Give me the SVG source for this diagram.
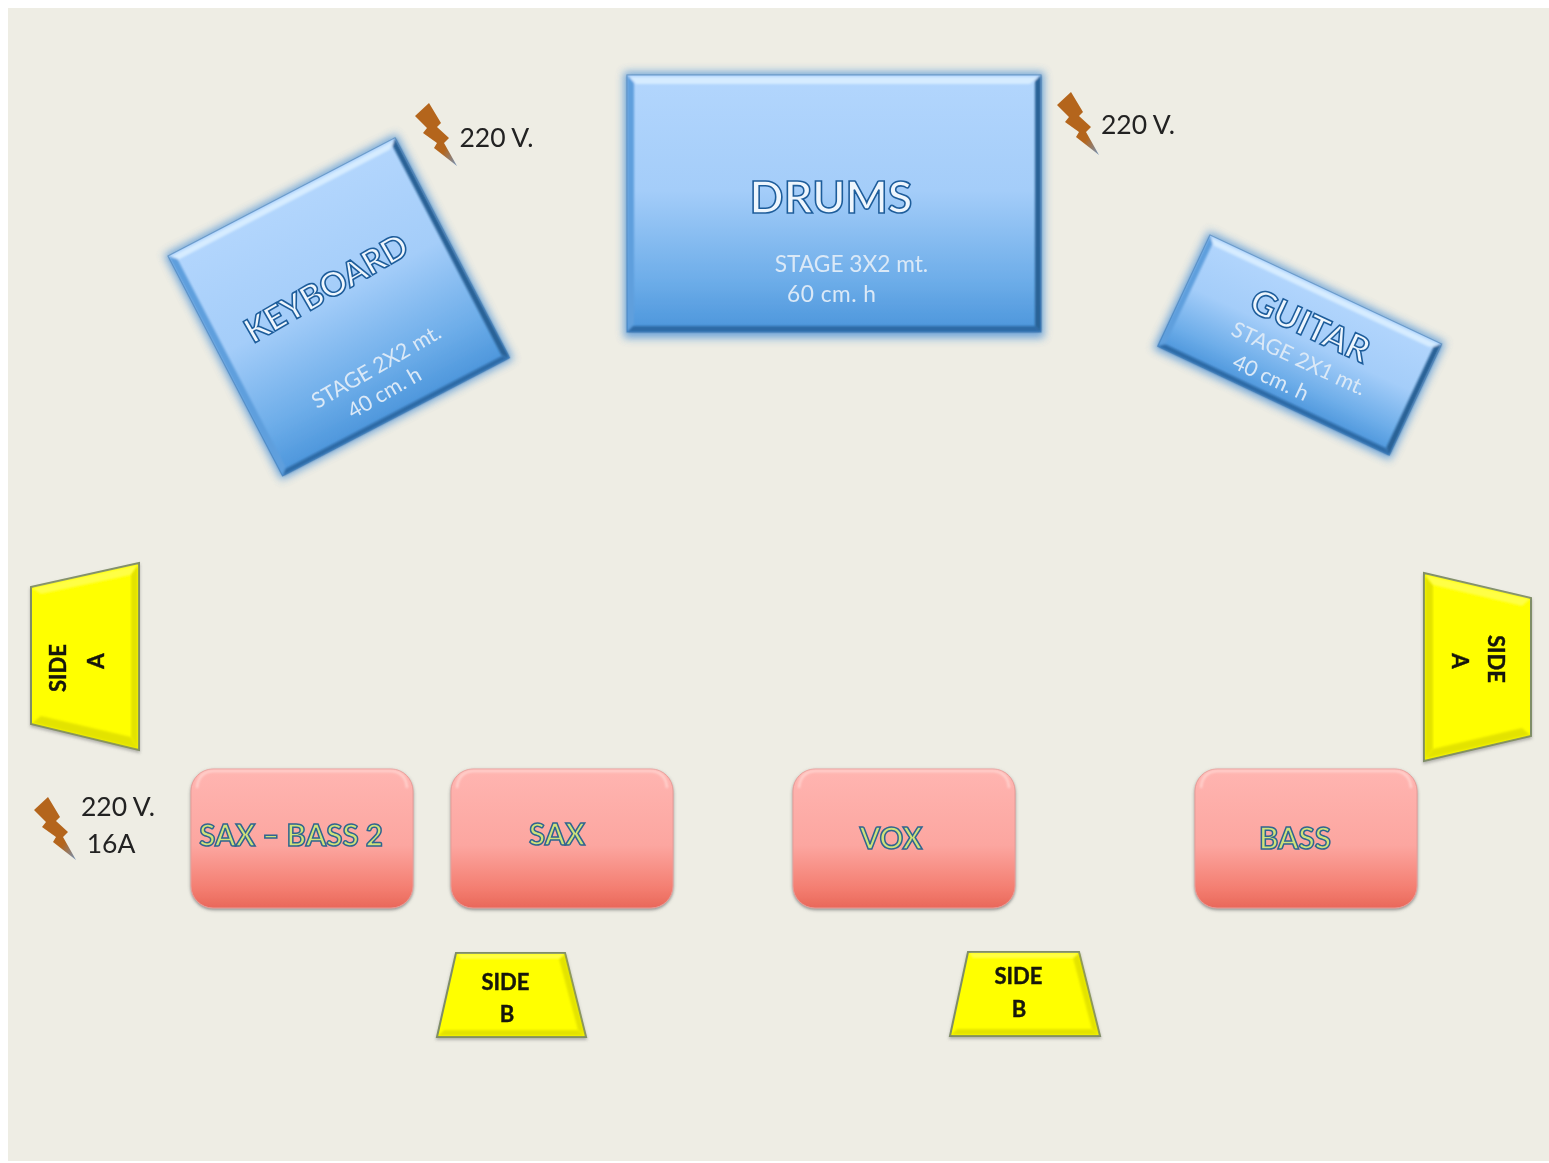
<svg xmlns="http://www.w3.org/2000/svg" xmlns:xlink="http://www.w3.org/1999/xlink" width="1549" height="1163" viewBox="0 0 1549 1163">
<style>
text{font-family:Lato,"Liberation Sans",sans-serif;text-anchor:middle}
.blue{fill:url(#gBlue)}
.edge{fill:none;stroke:#3f78b0;stroke-width:1.2;opacity:.55}
.glow{fill:#4f93d6;opacity:.8;filter:url(#b5)}
.hi{fill:#d6ecff}
.lf{fill:#5f9fdd}
.dk{fill:#2c6296}
.bt{fill:#2f6ba6}
.tt{font-weight:700;fill:#eef6fd;stroke:#1f5d9b;stroke-width:1.6}
.sub{fill:#dbe9f7;font-size:22.700px}
.subr{fill:#dbe9f7;font-size:21.500px}
.pink{fill:url(#gPink);stroke:#e79c98;stroke-width:1;filter:url(#sh)}
.phi{fill:none;stroke:#ffd9d5;stroke-width:2.500;opacity:.8;filter:url(#b1)}
.pt{font-weight:700;font-size:29.500px;fill:#cfe27a;stroke:#2f6590;stroke-width:1.500}
.yel{fill:#ffff00;stroke:#7f8d68;stroke-width:2;filter:url(#sh2)}
.yb{fill:#d2d100;opacity:.6;filter:url(#b1)}
.yl{fill:#ffff8a;opacity:.5;filter:url(#b1)}
.yt{font-weight:700;font-size:22px;fill:#15150a;stroke:#15150a;stroke-width:.4}
.v{font-size:26.500px;fill:#222}
</style>
<defs>
<linearGradient id="gBlue" x1="0" y1="0" x2="0" y2="1"><stop offset="0" stop-color="#b3d6fd"/><stop offset=".45" stop-color="#a4cdf9"/><stop offset=".8" stop-color="#6dade9"/><stop offset="1" stop-color="#4b95db"/></linearGradient>
<linearGradient id="gPink" x1="0" y1="0" x2="0" y2="1"><stop offset="0" stop-color="#ffb5b1"/><stop offset=".55" stop-color="#fca6a0"/><stop offset=".85" stop-color="#f47f72"/><stop offset="1" stop-color="#e9685a"/></linearGradient>
<linearGradient id="gBolt" x1="0" y1="0" x2="1" y2="1"><stop offset="0" stop-color="#b4651c"/><stop offset=".72" stop-color="#b4651c"/><stop offset="1" stop-color="#6f93bd"/></linearGradient>
<filter id="b5" x="-15%" y="-15%" width="130%" height="130%"><feGaussianBlur stdDeviation="4.500"/></filter>
<filter id="b1" x="-10%" y="-20%" width="120%" height="140%"><feGaussianBlur stdDeviation="1"/></filter>
<filter id="soft" x="-2%" y="-2%" width="104%" height="104%"><feGaussianBlur stdDeviation=".6"/></filter>
<filter id="sh" x="-5%" y="-5%" width="110%" height="115%"><feDropShadow dx="0" dy="1.500" stdDeviation="1.500" flood-color="#666" flood-opacity=".7"/></filter>
<filter id="sh2" x="-5%" y="-5%" width="110%" height="115%"><feDropShadow dx="0" dy="2" stdDeviation="1.500" flood-color="#777" flood-opacity=".5"/></filter>
<g id="bolt"><polygon points="1057,105 1071,92 1083,112 1079,116 1091,127 1086,132 1099,155 1076,137 1079,132 1065,122 1069,117" fill="url(#gBolt)"/></g>
</defs>
<rect width="1549" height="1163" fill="#fff"/>
<rect x="8" y="8" width="1541" height="1153" fill="#eeede4"/>
<g filter="url(#soft)">
<g id="keyboard">
<g transform="translate(168,256) rotate(-27.5)">
<rect class="glow" x="-3" y="-3" width="262" height="254"/>
<rect class="blue" width="256" height="248"/>
<g filter="url(#b1)">
<polygon class="hi" points="2,2 254,2 246,8 8,8"/><polygon class="lf" points="0,0 7,7 7,241 0,248"/><polygon class="dk" points="256,0 256,248 250,242 250,6"/><polygon class="bt" points="0,248 256,248 250,243 6,243"/>
</g><rect class="edge" width="256" height="248"/></g>
<text class="tt" font-size="33.500" transform="translate(326,288) rotate(-30)" y="12">KEYBOARD</text>
<text class="subr" transform="translate(376,366) rotate(-30)" y="8">STAGE 2X2 mt.</text>
<text class="subr" transform="translate(384,392) rotate(-30)" y="8">40 cm. h</text>
</g>
<g id="drums">
<g transform="translate(627,75)">
<rect class="glow" x="-3" y="-3" width="420" height="266"/>
<rect class="blue" width="414" height="257"/>
<g filter="url(#b1)">
<polygon class="hi" points="3,2 411,2 403,9 9,9"/><polygon class="lf" points="0,0 7,8 7,249 0,257"/><polygon class="dk" points="414,0 414,257 408,251 408,6"/><polygon class="bt" points="0,257 414,257 408,251 6,251"/>
</g><rect class="edge" width="414" height="257"/></g>
<text class="tt" x="831" y="213" font-size="44.800">DRUMS</text>
<text class="sub" x="851.500" y="272">STAGE 3X2 mt.</text>
<text class="sub" x="831.500" y="302" textLength="89">60 cm. h</text>
</g>
<g id="guitar">
<g transform="translate(1210,235) rotate(25.200)">
<rect class="glow" x="-3" y="-3" width="262" height="130"/>
<rect class="blue" width="256" height="123"/>
<g filter="url(#b1)">
<polygon class="hi" points="2,2 254,2 246,8 8,8"/><polygon class="lf" points="0,0 6,7 6,117 0,123"/><polygon class="dk" points="256,0 256,123 250,117 250,6"/><polygon class="bt" points="0,123 256,123 250,118 6,118"/>
</g><rect class="edge" width="256" height="123"/></g>
<text class="tt" font-size="35" transform="translate(1310,326) rotate(25)" y="12">GUITAR</text>
<text class="subr" transform="translate(1299,358) rotate(25)" y="8">STAGE 2X1 mt.</text>
<text class="subr" transform="translate(1271,377) rotate(25)" y="8">40 cm. h</text>
</g>
<g id="power-keyboard"><use href="#bolt" xlink:href="#bolt" transform="translate(-642,11)"/><text class="v" x="496.500" y="147">220 V.</text></g>
<g id="power-drums"><use href="#bolt" xlink:href="#bolt"/><text class="v" x="1138" y="134">220 V.</text></g>
<g id="power-left"><use href="#bolt" xlink:href="#bolt" transform="translate(-1023,705)"/><text class="v" x="118" y="816">220 V.</text><text class="v" x="111" y="853">16A</text></g>
<g id="side-a-left">
<polygon class="yel" points="31,587 139,563 139,750 31,724"/>
<polygon class="yl" points="32,588 138,565 131,575 41,594"/><polygon class="yb" points="131,575 138,565 138,749 131,737"/><polygon class="yb" points="41,716 131,737 138,749 32,723"/>
<text class="yt" transform="translate(66,668) rotate(-90)">SIDE</text>
<text class="yt" transform="translate(104,661) rotate(-90)">A</text>
</g>
<g id="side-a-right">
<polygon class="yel" points="1424,573 1531,598 1531,736 1424,761"/>
<polygon class="yb" points="1425,575 1433,585 1433,749 1425,759"/><polygon class="yl" points="1425,575 1530,599 1522,606 1433,585"/><polygon class="yb" points="1522,728 1530,735 1425,759 1433,749"/>
<text class="yt" transform="translate(1488,659) rotate(90)">SIDE</text>
<text class="yt" transform="translate(1452,661) rotate(90)">A</text>
</g>
<g id="side-b-left">
<polygon class="yel" points="456,953 565,953 586,1037 437,1037"/>
<polygon class="yb" points="559,959 565,954 585,1036 578,1030"/><polygon class="yb" points="444,1030 578,1030 585,1036 438,1036"/><polygon class="yl" points="457,954 565,954 559,959 461,959"/>
<text class="yt" x="505.500" y="990">SIDE</text><text class="yt" x="507" y="1022">B</text>
</g>
<g id="side-b-right">
<polygon class="yel" points="968,952 1079,952 1100,1036 950,1036"/>
<polygon class="yb" points="1073,958 1079,953 1099,1035 1092,1029"/><polygon class="yb" points="957,1029 1092,1029 1099,1035 951,1035"/><polygon class="yl" points="969,953 1079,953 1073,958 973,958"/>
<text class="yt" x="1018.500" y="984">SIDE</text><text class="yt" x="1019" y="1017">B</text>
</g>
<g id="sax-bass-2"><rect class="pink" x="191" y="769" width="222" height="139" rx="22"/><path class="phi" d="M197,788 Q198,772 213,771 H391 Q406,772 407,788"/><text class="pt" x="291" y="846">SAX – BASS 2</text></g>
<g id="sax"><rect class="pink" x="451" y="769" width="222" height="139" rx="22"/><path class="phi" d="M457,788 Q458,772 473,771 H651 Q666,772 667,788"/><text class="pt" x="557" y="845">SAX</text></g>
<g id="vox"><rect class="pink" x="793" y="769" width="222" height="139" rx="22"/><path class="phi" d="M799,788 Q800,772 815,771 H993 Q1008,772 1009,788"/><text class="pt" x="891" y="849">VOX</text></g>
<g id="bass"><rect class="pink" x="1195" y="769" width="222" height="139" rx="22"/><path class="phi" d="M1201,788 Q1202,772 1217,771 H1395 Q1410,772 1411,788"/><text class="pt" x="1295" y="849">BASS</text></g>
</g>
</svg>
